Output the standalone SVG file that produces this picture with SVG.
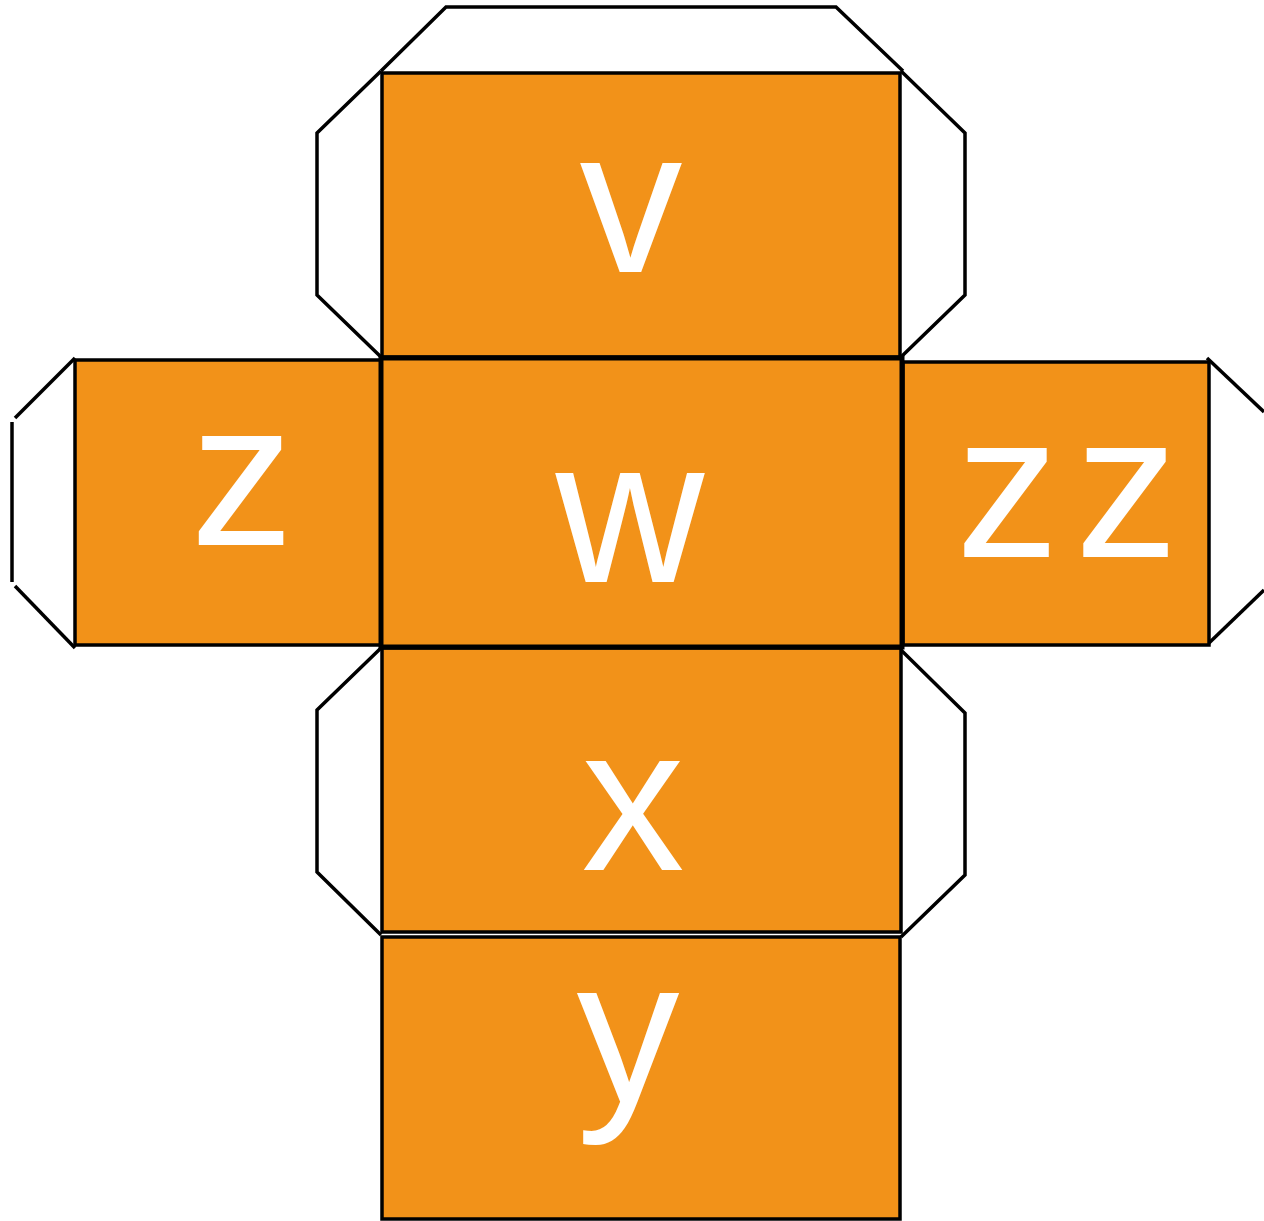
<svg xmlns="http://www.w3.org/2000/svg" width="1264" height="1221" viewBox="0 0 1264 1221">
<style>
.face{fill:#F29219;stroke:#000;stroke-width:3.5}
.mid{fill:#F29219;stroke:#000;stroke-width:5}
.flap{fill:none;stroke:#000;stroke-width:3.5;stroke-linejoin:miter}
.lbl{fill:#fff;font-family:"Liberation Sans","DejaVu Sans",sans-serif;font-size:206px;text-anchor:middle}
</style>
<rect width="1264" height="1221" fill="#fff"/>
<g id="flaps">
<polyline class="flap" points="381,71 446,7 836,7 903,71"/>
<polyline class="flap" points="381,71 317,133 317,295 381,357"/>
<polyline class="flap" points="901,71 965,133 965,295 901,357"/>
<line class="flap" x1="75" y1="358" x2="15" y2="418"/>
<line class="flap" x1="12" y1="422" x2="12" y2="582"/>
<line class="flap" x1="15" y1="586" x2="75" y2="648"/>
<line class="flap" x1="1207" y1="358" x2="1264" y2="412"/>
<line class="flap" x1="1209" y1="643" x2="1264" y2="590"/>
<polyline class="flap" points="381,648 317,710 317,872 381,935"/>
<polyline class="flap" points="901,650 965,713 965,875 901,937"/>
</g>
<g id="face-v"><rect class="face" x="382" y="73" width="518" height="284"/><text class="lbl" x="631" y="272" font-size="210">v</text></g>
<g id="face-z"><rect class="face" x="75" y="360" width="306" height="285"/><text class="lbl" x="242" y="545" font-size="196">z</text></g>
<g id="face-zz"><rect class="face" x="903" y="362" width="306" height="283"/><text class="lbl" x="1075" y="557" font-size="202" letter-spacing="16">zz</text></g>
<g id="face-x"><rect class="face" x="382" y="648" width="519" height="284"/><text class="lbl" x="633" y="870">x</text></g>
<g id="face-y"><rect class="face" x="382" y="937" width="518" height="282"/><text class="lbl" x="628" y="1102">y</text></g>
<g id="face-w"><rect class="mid" x="381" y="358" width="521" height="289"/><text class="lbl" x="630" y="582" font-size="210">w</text></g>
</svg>
